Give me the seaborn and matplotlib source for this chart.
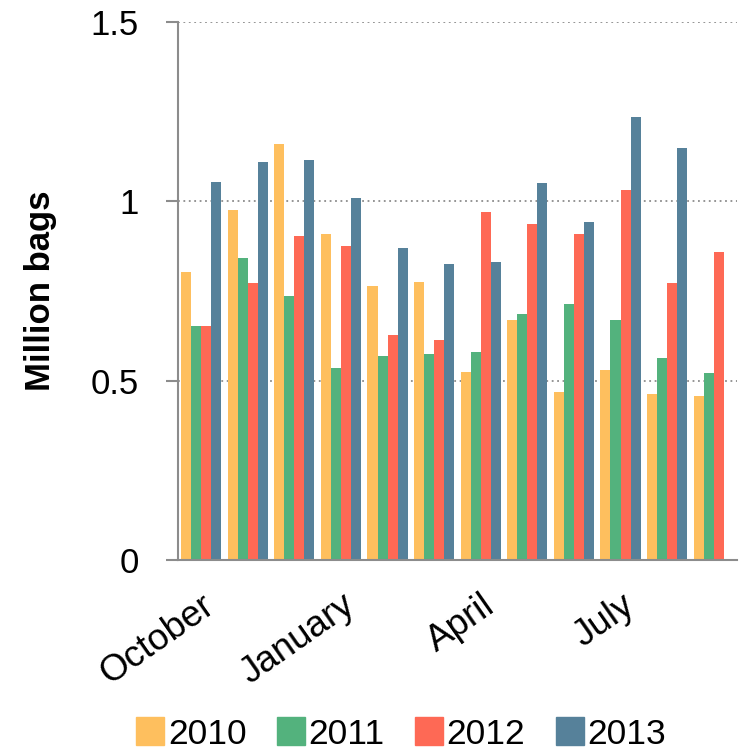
import matplotlib
matplotlib.use("Agg")
import matplotlib.pyplot as plt
from matplotlib.lines import Line2D
import seaborn as sns
import pandas as pd
import numpy as np

months = ["October", "November", "December", "January", "February", "March",
          "April", "May", "June", "July", "August", "September"]
years = ["2010", "2011", "2012", "2013"]
v2010 = [0.804, 0.977, 1.161, 0.910, 0.765, 0.776, 0.525, 0.670, 0.469, 0.531, 0.464, 0.458]
v2011 = [0.653, 0.843, 0.737, 0.536, 0.570, 0.575, 0.581, 0.687, 0.715, 0.670, 0.564, 0.520]
v2012 = [0.653, 0.771, 0.904, 0.876, 0.626, 0.614, 0.971, 0.938, 0.910, 1.033, 0.771, 0.859]
v2013 = [1.055, 1.111, 1.116, 1.010, 0.870, 0.826, 0.832, 1.050, 0.943, 1.234, 1.150, np.nan]
shown_labels = ["October", "January", "April", "July"]
colors = ["#FEBF5E", "#53B27D", "#FE6955", "#56819A"]

rows = []
for y, vals in zip(years, [v2010, v2011, v2012, v2013]):
    for m, v in zip(months, vals):
        if not np.isnan(v):
            rows.append({"month": m, "year": y, "value": v})
df = pd.DataFrame(rows)

sns.set_style("white")
plt.rcParams['font.family'] = ['Liberation Sans', 'DejaVu Sans']
plt.rcParams['text.color'] = 'black'
plt.rcParams['axes.labelcolor'] = 'black'

fig = plt.figure(figsize=(7.41, 7.54), dpi=100)
ax = fig.add_axes([0.240, 0.2573, 0.7546, 0.7135])

sns.barplot(data=df, x="month", y="value", hue="year", order=months,
            hue_order=years, palette=colors, width=0.86, errorbar=None,
            saturation=1, ax=ax, legend=False, linewidth=0)

ax.set_xlim(-0.5, 11.5)
ax.set_ylim(0, 1.5)
ax.set_yticks([0, 0.5, 1, 1.5])
ax.set_yticklabels(["0", "0.5", "1", "1.5"])
for yv in [0.5, 1.0, 1.5]:
    ax.axhline(yv, color="#8c8c8c", linestyle=(0, (1, 2)), linewidth=1.3, zorder=0)

ax.set_xticks([months.index(m) for m in shown_labels])
ax.set_xticklabels(shown_labels, rotation=35, ha="right", rotation_mode="anchor")
ax.set_xticks(np.arange(-0.5, 12, 1), minor=True)
ax.tick_params(axis="x", which="major", length=0, pad=20, labelsize=26.5,
               labelcolor="black")
ax.tick_params(axis="x", which="minor", length=9, width=1.5, color="#8c8c8c", direction="out")
ax.tick_params(axis="y", length=9, width=1.5, color="#8c8c8c", direction="out",
               pad=19, labelsize=25, left=True, labelcolor="black")

for s in ["top", "right"]:
    ax.spines[s].set_visible(False)
for s in ["left", "bottom"]:
    ax.spines[s].set_color("#8c8c8c")
    ax.spines[s].set_linewidth(1.5)

ax.set_xlabel("")
ax.set_ylabel("Million bags", fontsize=25, fontweight="bold", labelpad=24)

handles = [Line2D([], [], marker="s", linestyle="none", markersize=20,
                  markerfacecolor=c, markeredgecolor=c) for c in colors]
fig.legend(handles, years, loc="lower center", bbox_to_anchor=(0.54, -0.038),
           ncol=4, frameon=False, fontsize=25.5, handletextpad=0.05,
           columnspacing=0.8, handlelength=0.9)

fig.savefig("out.png", dpi=100)
